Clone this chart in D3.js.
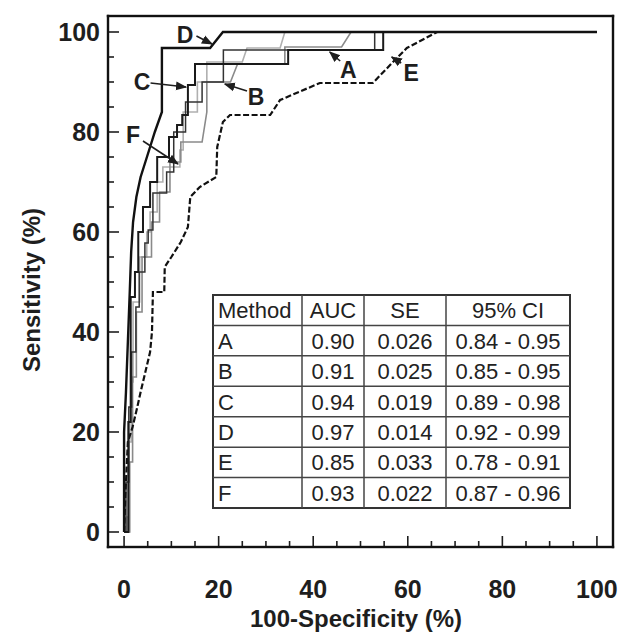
<!doctype html>
<html lang="en">
  <head>
    <meta charset="utf-8">
    <script src="https://cdn.jsdelivr.net/npm/d3@7/dist/d3.min.js"></script>
    <style>
      body { margin:0; background:#fff; font-family: "Liberation Sans", Arial, sans-serif }
      svg { display:block }
      .tick-label { font-weight:bold; font-size:25px; fill:#1e1e1e }
      .axis-title { font-weight:bold; font-size:24px; fill:#1e1e1e }
      .curve-label { font-weight:bold; font-size:23px; fill:#1e1e1e }
      .cell { font-size:22px; fill:#222 }
    </style>
    <title>ROC curves</title>
  </head>
  <body>
    <script>
      // ROC curves: [100-specificity, sensitivity] in %
      const curveA = [[0,0],[0.4,0],[0.4,10],[1,10],[1,25],[1.6,25],[1.6,36],[2.5,36],[2.5,45],[3.2,45],[3.2,52],[4.4,52],[4.4,57.8],[5.1,57.8],[5.1,60.4],[6.1,60.4],[6.1,67.8],[9,67.8],[9,72],[10.5,72],[10.5,80],[13,80],[13,86],[16.5,86],[16.5,90],[21,90],[21,96.4],[53,96.4],[53,100],[100,100]];
      const curveB = [[0,0],[1.2,0],[1.2,14],[1.8,14],[1.8,31],[2.6,31],[2.6,44],[3.8,44],[3.8,55],[5.8,55],[5.8,62],[7.5,62],[7.5,68],[9.7,68],[9.7,74],[12,74],[12,78],[16.5,78],[17.5,84],[17.5,90],[22.5,90],[24,93.6],[34,93.6],[34,97],[46,97],[48,100],[100,100]];
      const curveC = [[0,0],[0.9,0],[0.9,22],[1.4,22],[1.4,47],[2.3,47],[2.3,52],[3,52],[3,60],[4,60],[4,65],[5.5,65],[5.5,70],[7,70],[7,75],[9.5,75],[9.5,79],[11.2,79],[11.2,81.4],[12.3,81.4],[12.3,83.4],[13.5,83.4],[13.5,89.4],[15,89.4],[15,93.6],[34.7,93.6],[34.7,96.4],[54.8,96.4],[54.8,100],[100,100]];
      const curveD = [[0,0],[0,20],[0.4,28],[0.8,38],[1.2,48],[1.5,56],[1.9,62],[2.6,67],[3.5,71],[4.5,74],[5.5,77],[6.5,80],[8,84],[8,96.8],[18.2,96.8],[20.9,100],[100,100]];
      const curveE = [[0,0],[0.3,8],[0.8,18],[1.8,21],[2.8,25],[3.5,28],[4.5,32],[5.5,36],[5.9,40],[6.1,48],[8.5,48],[8.6,53],[10,55],[12,58],[13.5,61],[14,67],[16,69],[19.5,71],[19.7,77],[20.9,82],[22.4,83.4],[30.9,83.4],[33,86.4],[41.4,89.8],[52.6,89.8],[57.7,94.8],[59.8,96.8],[66.2,100],[100,100]];
      const curveF = [[0,0],[0.6,0],[0.6,3],[1,3],[1,18],[1.5,18],[1.5,30],[1.9,30],[1.9,46],[3.3,46],[3.3,55],[4.8,55],[4.8,60],[5.5,60],[5.5,64],[7,64],[7,70],[8.2,70],[8.2,73],[11.8,73],[11.8,76.4],[12.5,76.4],[12.5,84],[15.5,84],[15.5,90],[17.5,90],[17.5,94],[25,94],[26,96.8],[33,96.8],[34,100],[100,100]];

      // curve labels: text position and arrow [from, to]
      const labelNames = ["A","B","C","D","E","F"];
      const labelPos = [[47.4,92.4],[27.9,87],[3.8,90],[12.9,99.4],[60.7,91.8],[1.9,79.4]];
      const arrowFrom = [[45.7,94.2],[26,88.2],[5.6,89.8],[15.3,99.2],[58.6,93.8],[4,78.2]];
      const arrowTo = [[43.5,96],[21.3,89.6],[13.1,89],[18.6,97.6],[56.6,95],[11.4,73.6]];

      // table
      const tableHead = ["Method","AUC","SE","95% CI"];
      const methods = ["A","B","C","D","E","F"];
      const aucValues = ["0.90","0.91","0.94","0.97","0.85","0.93"];
      const seValues = ["0.026","0.025","0.019","0.014","0.033","0.022"];
      const ciValues = ["0.84 - 0.95","0.85 - 0.95","0.89 - 0.98","0.92 - 0.99","0.78 - 0.91","0.87 - 0.96"];

      const xTickLabels = [0,20,40,60,80,100];
      const yTickLabels = [0,20,40,60,80,100];
      const minorTicks = d3.range(0,101,5);

      const W = 624, H = 634;
      const svg = d3.select("body").append("svg").attr("width",W).attr("height",H);

      let x = d3.scaleLinear().domain([-3.4,103.4]).range([108,613]);
      let y = d3.scaleLinear().domain([-3,103.2]).range([547,16]);
      let xLo = x.range()[0], xHi = x.range()[1], yLo = y.range()[0], yHi = y.range()[1];

      // curves, gray ones below the black ones
      let line = d3.line().x(d=>x(d[0])).y(d=>y(d[1]));
      let curves = [
        {d:curveF, c:"#b0b0b0", w:1.6, dash:null},
        {d:curveB, c:"#8a8a8a", w:1.6, dash:null},
        {d:curveA, c:"#333", w:1.5, dash:null},
        {d:curveE, c:"#111", w:2.2, dash:"6,2.5"},
        {d:curveC, c:"#1a1a1a", w:2, dash:null},
        {d:curveD, c:"#111", w:2.4, dash:null}
      ];
      curves.forEach(cv=>{
        svg.append("path").attr("d",line(cv.d)).attr("fill","none")
          .attr("stroke",cv.c).attr("stroke-width",cv.w)
          .attr("stroke-dasharray",cv.dash);
      });

      // inward ticks
      let axes = svg.append("g").attr("stroke","#1e1e1e").attr("stroke-width",1.6);
      minorTicks.forEach(t=>{
        let len = (t%20==0) ? 11 : 6;
        axes.append("line").attr("x1",x(t)).attr("x2",x(t)).attr("y1",yLo).attr("y2",yLo-len);
        axes.append("line").attr("y1",y(t)).attr("y2",y(t)).attr("x1",xLo).attr("x2",xLo+len);
      });

      svg.selectAll(".xl").data(xTickLabels).enter().append("text")
        .attr("class","tick-label").attr("text-anchor","middle")
        .attr("x",d=>x(d)).attr("y",598).text(d=>d);
      svg.selectAll(".yl").data(yTickLabels).enter().append("text")
        .attr("class","tick-label").attr("text-anchor","end")
        .attr("x",100).attr("y",d=>y(d)+9).text(d=>d);

      svg.append("text").attr("class","axis-title").attr("text-anchor","middle")
        .attr("x",356).attr("y",627).text("100-Specificity (%)");
      svg.append("text").attr("class","axis-title").attr("text-anchor","middle")
        .attr("transform","translate(40,290) rotate(-90)").text("Sensitivity (%)");

      // labels and arrows
      svg.append("defs").append("marker").attr("id","arr")
        .attr("viewBox","0 0 10 10").attr("refX",9).attr("refY",5)
        .attr("markerWidth",7).attr("markerHeight",7).attr("orient","auto")
        .append("path").attr("d","M0,1L10,5L0,9z").attr("fill","#1e1e1e");
      labelNames.forEach((n,i)=>{
        svg.append("line").attr("x1",x(arrowFrom[i][0])).attr("y1",y(arrowFrom[i][1]))
          .attr("x2",x(arrowTo[i][0])).attr("y2",y(arrowTo[i][1]))
          .attr("stroke","#1e1e1e").attr("stroke-width",1.6).attr("marker-end","url(#arr)");
        svg.append("text").attr("class","curve-label").attr("text-anchor","middle")
          .attr("x",x(labelPos[i][0])).attr("y",y(labelPos[i][1])+8).text(n);
      });

      // table
      const tX = 213, tY = 295, tW = 357, rowH = 30.43;
      const colX = [213,302,364,446,570];
      let table = svg.append("g");
      table.append("rect").attr("x",tX).attr("y",tY).attr("width",tW).attr("height",rowH*7)
        .attr("fill","#fff").attr("stroke","#333").attr("stroke-width",2);
      for (let r=1; r<7; r++) {
        table.append("line").attr("x1",tX).attr("x2",tX+tW).attr("y1",tY+r*rowH).attr("y2",tY+r*rowH)
          .attr("stroke","#444").attr("stroke-width",1.5);
      }
      colX.slice(1,4).forEach(cx=>{
        table.append("line").attr("x1",cx).attr("x2",cx).attr("y1",tY).attr("y2",tY+rowH*7)
          .attr("stroke","#444").attr("stroke-width",1.5);
      });
      let rows = [tableHead].concat(methods.map((m,i)=>[m,aucValues[i],seValues[i],ciValues[i]]));
      rows.forEach((row,r)=>{
        row.forEach((cell,c)=>{
          let t = table.append("text").attr("class","cell")
            .attr("y",tY+r*rowH+rowH/2+8).text(cell);
          if (c==0) t.attr("x",colX[0]+5);
          else t.attr("x",(colX[c]+colX[c+1])/2).attr("text-anchor","middle");
        });
      });

      // plot frame as four filled strips
      const fw = 2.4;
      let frame = svg.append("g").attr("fill","#111");
      frame.append("rect").attr("x",xLo-fw/2).attr("y",yHi-fw/2).attr("width",xHi-xLo+fw).attr("height",fw);
      frame.append("rect").attr("x",xLo-fw/2).attr("y",yLo-fw/2).attr("width",xHi-xLo+fw).attr("height",fw);
      frame.append("rect").attr("x",xLo-fw/2).attr("y",yHi-fw/2).attr("width",fw).attr("height",yLo-yHi+fw);
      frame.append("rect").attr("x",xHi-fw/2).attr("y",yHi-fw/2).attr("width",fw).attr("height",yLo-yHi+fw);
    </script>
  </body>
</html>
